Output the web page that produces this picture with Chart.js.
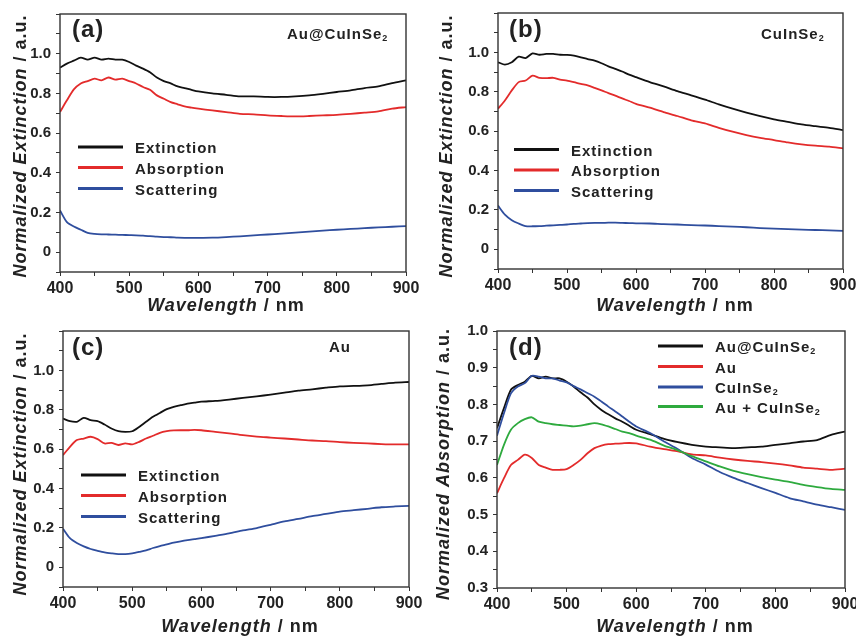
<!DOCTYPE html>
<html>
<head>
<meta charset="utf-8">
<script src="https://cdn.jsdelivr.net/npm/chart.js@4.4.1/dist/chart.umd.min.js"></script>
<style>
  body { margin: 0; background: #fff; }
  #wrap { position: relative; width: 856px; height: 636px; }
  #wrap canvas { position: absolute; }
</style>
</head>
<body>
<div id="wrap">
  <canvas id="panelA" width="428" height="318" style="left:0;top:0"></canvas>
  <canvas id="panelB" width="428" height="318" style="left:428px;top:0"></canvas>
  <canvas id="panelC" width="428" height="318" style="left:0;top:318px"></canvas>
  <canvas id="panelD" width="428" height="318" style="left:428px;top:318px"></canvas>
</div>
<script>
// wavelength grid (nm) the curves were read at
const wavelengths = [400, 410, 420, 430, 440, 450, 460, 470, 480, 490, 500, 510, 520, 530, 540, 550, 560, 570, 580, 590, 600,
  620, 640, 660, 680, 700, 720, 740, 760, 780, 800, 820, 840, 860, 880, 900];

// (a) Au@CuInSe2
const extinctionA = [.93, .95, .965, .98, .97, .98, .97, .975, .97, .97, .958, .94, .925, .907, .88, .862, .85, .835, .827, .818, .81,
  .80, .793, .785, .785, .782, .782, .785, .79, .798, .807, .815, .827, .835, .852, .866];
const absorptionA = [.706, .765, .82, .85, .862, .874, .866, .88, .869, .874, .862, .85, .832, .818, .79, .773, .756, .745, .734, .728, .723,
  .714, .706, .697, .694, .689, .686, .684, .686, .689, .692, .697, .703, .709, .723, .731];
const scatteringA = [.21, .151, .129, .113, .097, .092, .090, .089, .088, .087, .086, .085, .083, .081, .078, .076, .075, .073, .072, .072, .072,
  .073, .076, .080, .085, .089, .093, .098, .103, .108, .113, .117, .121, .125, .128, .131];

// (b) CuInSe2
const extinctionB = [.95, .938, .95, .978, .971, .995, .988, .992, .992, .988, .987, .983, .975, .966, .958, .945, .929, .916, .903, .887, .874,
  .849, .827, .803, .782, .76, .736, .714, .694, .676, .66, .647, .634, .625, .617, .605];
const absorptionB = [.714, .756, .807, .849, .857, .882, .871, .869, .871, .862, .857, .849, .84, .832, .82, .807, .793, .78, .766, .753, .739,
  .719, .697, .677, .655, .639, .617, .597, .58, .566, .555, .543, .533, .526, .521, .513];
const scatteringB = [.222, .176, .148, .131, .118, .117, .118, .12, .122, .124, .126, .129, .131, .133, .134, .134, .135, .135, .134, .133, .132,
  .131, .128, .126, .123, .121, .118, .115, .112, .108, .105, .102, .1, .098, .096, .094];

// (c) Au
const extinctionC = [.755, .742, .739, .759, .747, .742, .725, .705, .691, .688, .691, .713, .739, .764, .784, .803, .815, .823, .831, .836, .841,
  .845, .852, .86, .868, .877, .887, .897, .904, .912, .919, .921, .924, .931, .938, .941];
const absorptionC = [.57, .612, .646, .654, .663, .651, .629, .632, .621, .629, .624, .637, .654, .668, .683, .691, .695, .696, .696, .698, .696,
  .688, .68, .671, .664, .659, .654, .649, .644, .641, .636, .632, .629, .626, .624, .624];
const scatteringC = [.196, .148, .123, .106, .093, .084, .076, .071, .067, .067, .071, .078, .086, .098, .108, .116, .125, .132, .138, .143, .148,
  .16, .172, .187, .199, .216, .233, .246, .26, .271, .283, .29, .297, .305, .309, .312];

// (d) normalized absorption comparison
const absAuCIS = [.735, .79, .84, .853, .862, .878, .871, .876, .871, .871, .862, .849, .833, .819, .80, .785, .773, .762, .753, .742, .731,
  .719, .706, .697, .69, .685, .683, .681, .683, .685, .69, .694, .699, .703, .717, .726];
const absAu = [.558, .599, .635, .649, .663, .654, .635, .628, .622, .622, .624, .635, .649, .667, .681, .688, .692, .693, .694, .695, .694,
  .685, .678, .672, .664, .661, .655, .65, .646, .643, .639, .634, .628, .625, .622, .625];
const absCIS = [.715, .776, .83, .849, .858, .878, .876, .871, .871, .865, .86, .85, .841, .831, .821, .808, .794, .781, .767, .753, .74,
  .722, .699, .678, .654, .636, .616, .6, .586, .572, .559, .545, .536, .527, .52, .513];
const absMix = [.635, .69, .731, .749, .76, .765, .753, .749, .746, .744, .742, .74, .742, .746, .749, .746, .74, .733, .726, .722, .715,
  .704, .688, .675, .659, .645, .631, .619, .61, .602, .595, .589, .581, .575, .57, .567];

const FONT = "'Liberation Sans', Arial, sans-serif";
const INK = '#222';
const BLACK = '#111111', RED = '#e32b2b', BLUE = '#2f4e9e', GREEN = '#2eaa3e';

Chart.defaults.font.family = FONT;

// draw a run of text pieces (italic parts, subscripts) starting at x or centred on x
function drawSegs(ctx, segs, x, y, size, center) {
  const fontOf = s => s.sub ? `bold ${Math.round(size * 0.6)}px ${FONT}` : `${s.it ? 'italic ' : ''}bold ${size}px ${FONT}`;
  let w = 0;
  segs.forEach(s => { ctx.font = fontOf(s); w += ctx.measureText(s.t).width; });
  let cx = center ? x - w / 2 : x;
  segs.forEach(s => {
    ctx.font = fontOf(s);
    ctx.fillText(s.t, cx, y + (s.sub ? 2 : 0));
    cx += ctx.measureText(s.t).width;
  });
}

const decoPlugin = {
  id: 'deco',
  afterDraw(chart, args, o) {
    const ctx = chart.ctx, a = chart.chartArea;
    ctx.save();
    // frame
    ctx.strokeStyle = '#333';
    ctx.lineWidth = 1.4;
    ctx.strokeRect(a.left, a.top, a.right - a.left, a.bottom - a.top);

    ctx.fillStyle = INK;
    ctx.textAlign = 'left';
    ctx.textBaseline = 'alphabetic';
    ctx.letterSpacing = '1px';

    // panel tag and sample name
    drawSegs(ctx, [{ t: o.tag }], o.tagX, 37, 24, false);
    if (o.name) drawSegs(ctx, o.name, o.nameX, o.nameY, 15, false);

    // legend
    const lg = o.legend;
    lg.items.forEach((it, i) => {
      const y = lg.ys[i];
      ctx.strokeStyle = it.color;
      ctx.lineWidth = 3;
      ctx.beginPath();
      ctx.moveTo(lg.x0, y);
      ctx.lineTo(lg.x1, y);
      ctx.stroke();
      ctx.fillStyle = INK;
      drawSegs(ctx, it.text, lg.tx, y + 6, 15, false);
    });

    // axis titles
    drawSegs(ctx, [{ t: 'Wavelength', it: true }, { t: ' / nm' }], o.xTitleX, o.xTitleY, 18, true);
    ctx.translate(o.yTitleX, o.yTitleY);
    ctx.rotate(-Math.PI / 2);
    drawSegs(ctx, [{ t: o.yTitle, it: true }, { t: ' / a.u.' }], 0, 0, 18, true);
    ctx.restore();
  }
};

function makePanel(id, p) {
  const area = p.area;
  new Chart(document.getElementById(id), {
    type: 'line',
    data: {
      datasets: p.series.map(s => ({
        data: wavelengths.map((w, i) => ({ x: w, y: s.values[i] })),
        borderColor: s.color,
        borderWidth: 1.8,
        pointRadius: 0,
        tension: 0.25,
        fill: false
      }))
    },
    options: {
      responsive: false,
      animation: false,
      layout: { padding: { left: 0, top: area.t, right: 428 - area.r, bottom: 0 } },
      plugins: {
        legend: { display: false },
        tooltip: { enabled: false },
        deco: p.deco
      },
      scales: {
        x: {
          type: 'linear',
          min: 400,
          max: 900,
          ticks: {
            stepSize: 50,
            autoSkip: false,
            maxRotation: 0,
            padding: 3,
            color: INK,
            font: { size: 16, weight: 'bold' },
            callback: v => (v % 100 === 0 ? String(v) : '')
          },
          grid: { drawOnChartArea: false, tickLength: 4, color: '#333' },
          border: { display: false },
          afterFit: s => { s.height = 318 - area.b; s.paddingLeft = 0; s.paddingRight = 0; }
        },
        y: {
          min: p.yMin,
          max: p.yMax,
          ticks: {
            stepSize: p.yStep,
            autoSkip: false,
            padding: 5,
            color: INK,
            font: { size: 15, weight: 'bold' },
            callback: p.yLabel
          },
          grid: { drawOnChartArea: false, tickLength: 4, color: '#333' },
          border: { display: false },
          afterFit: s => { s.width = area.l; s.paddingTop = 0; s.paddingBottom = 0; }
        }
      }
    },
    plugins: [decoPlugin]
  });
}

// 0, 0.2 ... 1.0 labelled, minor ticks every 0.1
const extLabel = v => {
  const k = Math.round(v * 10);
  if (k < 0 || k > 10 || k % 2 !== 0) return '';
  return k === 0 ? '0' : (k / 10).toFixed(1);
};
const absLabel = v => (Math.round(v * 100) % 10 === 0 ? v.toFixed(1) : '');

const sub2 = [{ t: 'CuInSe' }, { t: '2', sub: true }];
const threeLegend = ['Extinction', 'Absorption', 'Scattering'];
const threeColors = [BLACK, RED, BLUE];
const legend3 = (x0, ys) => ({
  x0: x0, x1: x0 + 45, tx: x0 + 57, ys: ys,
  items: threeLegend.map((t, i) => ({ text: [{ t: t }], color: threeColors[i] }))
});

makePanel('panelA', {
  area: { l: 60, r: 406, t: 14, b: 272 },
  yMin: -0.1, yMax: 1.2, yStep: 0.1, yLabel: extLabel,
  series: [
    { values: scatteringA, color: BLUE },
    { values: absorptionA, color: RED },
    { values: extinctionA, color: BLACK }
  ],
  deco: {
    tag: '(a)', tagX: 72,
    name: [{ t: 'Au@' }].concat(sub2), nameX: 287, nameY: 39,
    legend: legend3(78, [147, 167.5, 188.5]),
    xTitleX: 226, xTitleY: 311, yTitleX: 26, yTitleY: 146, yTitle: 'Normalized Extinction'
  }
});

makePanel('panelB', {
  area: { l: 70, r: 415, t: 13, b: 269 },
  yMin: -0.1, yMax: 1.2, yStep: 0.1, yLabel: extLabel,
  series: [
    { values: scatteringB, color: BLUE },
    { values: absorptionB, color: RED },
    { values: extinctionB, color: BLACK }
  ],
  deco: {
    tag: '(b)', tagX: 81,
    name: sub2, nameX: 333, nameY: 39,
    legend: legend3(86, [149.5, 170, 190.5]),
    xTitleX: 247, xTitleY: 311, yTitleX: 24, yTitleY: 146, yTitle: 'Normalized Extinction'
  }
});

makePanel('panelC', {
  area: { l: 63, r: 409, t: 13, b: 269 },
  yMin: -0.1, yMax: 1.2, yStep: 0.1, yLabel: extLabel,
  series: [
    { values: scatteringC, color: BLUE },
    { values: absorptionC, color: RED },
    { values: extinctionC, color: BLACK }
  ],
  deco: {
    tag: '(c)', tagX: 72,
    name: [{ t: 'Au' }], nameX: 329, nameY: 34,
    legend: legend3(81, [157, 177.5, 198.5]),
    xTitleX: 240, xTitleY: 314, yTitleX: 26, yTitleY: 146, yTitle: 'Normalized Extinction'
  }
});

makePanel('panelD', {
  area: { l: 69, r: 417, t: 13, b: 270 },
  yMin: 0.3, yMax: 1.0, yStep: 0.05, yLabel: absLabel,
  series: [
    { values: absMix, color: GREEN },
    { values: absAu, color: RED },
    { values: absCIS, color: BLUE },
    { values: absAuCIS, color: BLACK }
  ],
  deco: {
    tag: '(d)', tagX: 81,
    name: null,
    legend: {
      x0: 230, x1: 275, tx: 287, ys: [28, 48.5, 69, 88.5],
      items: [
        { text: [{ t: 'Au@' }].concat(sub2), color: BLACK },
        { text: [{ t: 'Au' }], color: RED },
        { text: sub2, color: BLUE },
        { text: [{ t: 'Au + ' }].concat(sub2), color: GREEN }
      ]
    },
    xTitleX: 247, xTitleY: 314, yTitleX: 21, yTitleY: 146, yTitle: 'Normalized Absorption'
  }
});
</script>
</body>
</html>
